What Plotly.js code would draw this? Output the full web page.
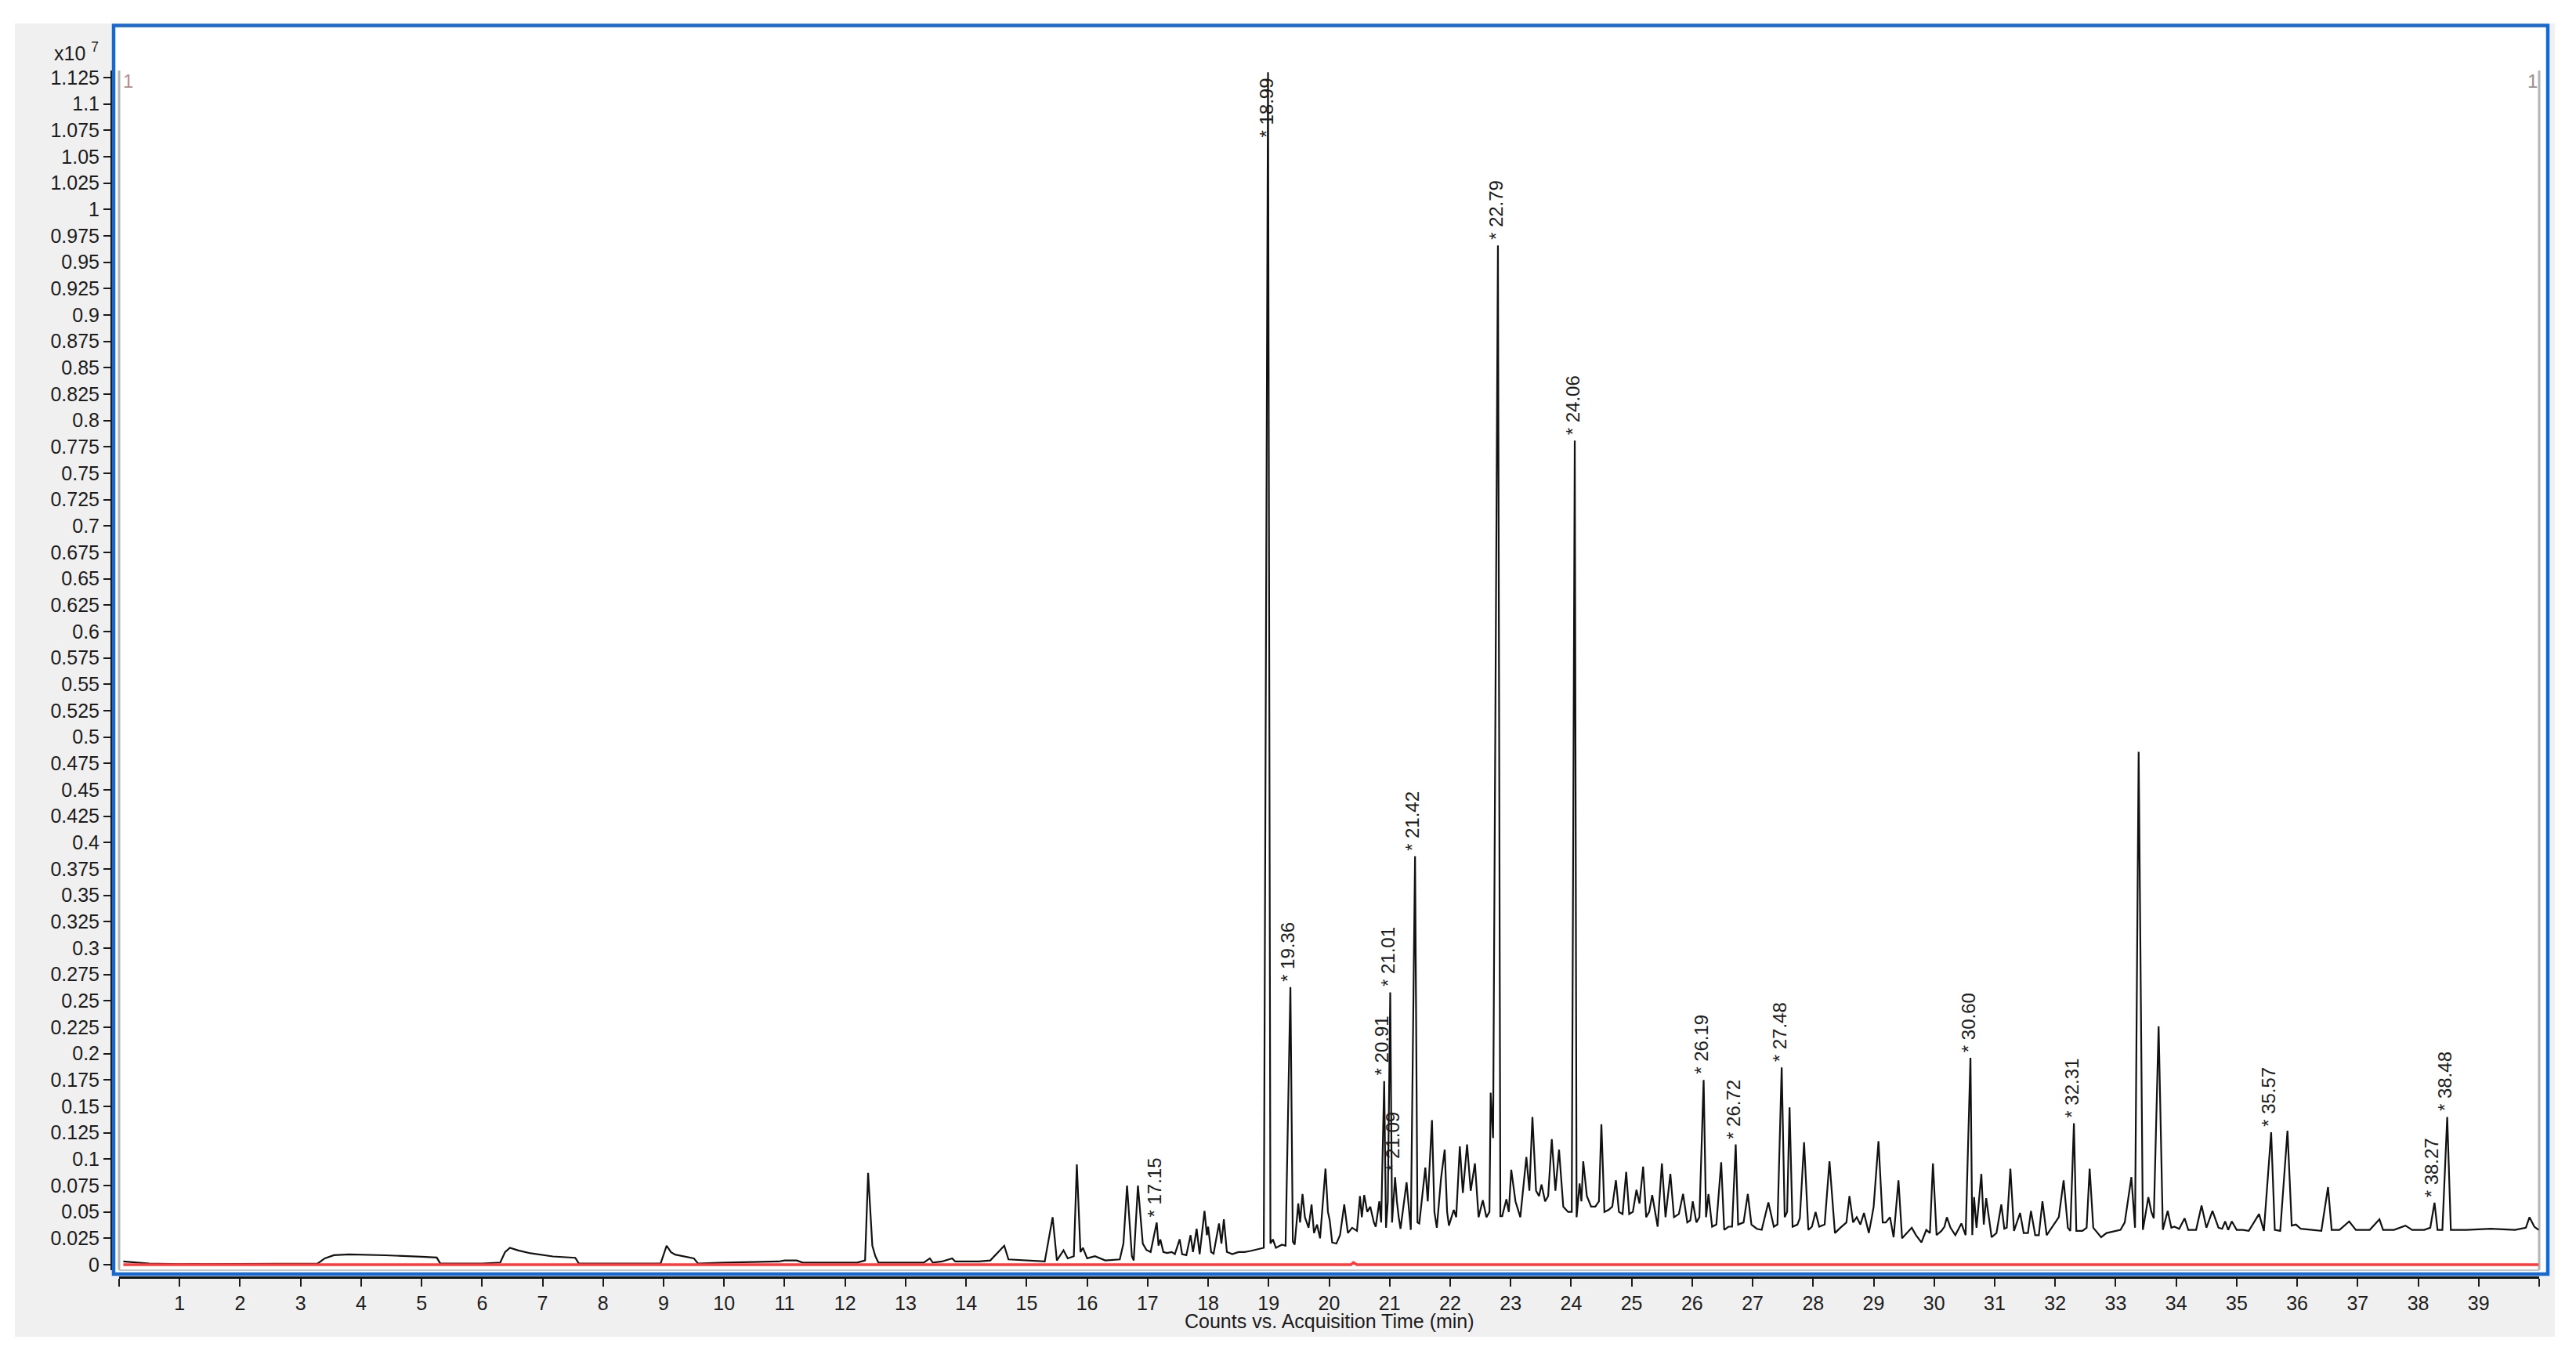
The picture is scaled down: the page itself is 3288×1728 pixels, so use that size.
<!DOCTYPE html>
<html>
<head>
<meta charset="utf-8">
<script src="https://cdn.plot.ly/plotly-3.0.1.min.js"></script>
<style>
  html, body { margin: 0; padding: 0; background: #ffffff; }
  #chart { width: 3288px; height: 1728px; }
</style>
</head>
<body>
<div id="chart"></div>
<script>
// ---- DATA (counts in units of x10^7, time in minutes) ----
const timeMin = [
  0.07, 0.30, 0.50, 1.0, 2.0, 3.0, 3.28, 3.40, 3.55, 3.8, 4.4, 5.0, 5.25, 5.31,
  6.0, 6.30, 6.38, 6.46, 6.6, 6.8, 7.17, 7.54, 7.60, 8.95, 9.05, 9.12, 9.19, 9.5, 9.57,
  10.0, 10.9, 11.0, 11.2, 11.3, 12.2, 12.33, 12.38, 12.45, 12.50, 12.55, 13.3, 13.4,
  13.45, 13.6, 13.77, 13.82, 14.0, 14.21, 14.4, 14.63, 14.7, 15.0, 15.3, 15.43, 15.5,
  15.61, 15.68, 15.78, 15.83, 15.89, 15.93, 16.0, 16.13, 16.3, 16.54, 16.60, 16.66,
  16.74, 16.77, 16.84, 16.92, 16.98, 17.05, 17.15, 17.18, 17.21, 17.26, 17.32, 17.40,
  17.45, 17.53, 17.57, 17.64, 17.71, 17.75, 17.81, 17.86, 17.94, 17.98, 18.00, 18.05,
  18.09, 18.14, 18.18, 18.22, 18.26, 18.31, 18.40, 18.50, 18.60, 18.70, 18.83, 18.92,
  18.99, 19.03, 19.07, 19.12, 19.22, 19.28, 19.36, 19.40, 19.43, 19.49, 19.52, 19.56,
  19.60, 19.62, 19.66, 19.71, 19.75, 19.80, 19.85, 19.94, 19.98, 20.01, 20.05, 20.12,
  20.18, 20.25, 20.31, 20.38, 20.46, 20.51, 20.54, 20.58, 20.63, 20.68, 20.74, 20.77,
  20.83, 20.86, 20.91, 20.94, 20.97, 21.01, 21.04, 21.09, 21.12, 21.15, 21.18, 21.28,
  21.35, 21.42, 21.46, 21.49, 21.59, 21.63, 21.70, 21.74, 21.78, 21.85, 21.91, 21.95,
  21.98, 22.06, 22.10, 22.16, 22.21, 22.28, 22.34, 22.41, 22.47, 22.54, 22.60, 22.65,
  22.67, 22.71, 22.79, 22.83, 22.86, 22.93, 22.97, 23.01, 23.08, 23.16, 23.26, 23.31,
  23.36, 23.42, 23.47, 23.51, 23.57, 23.62, 23.68, 23.74, 23.80, 23.87, 23.95, 24.01,
  24.06, 24.09, 24.14, 24.17, 24.20, 24.26, 24.33, 24.40, 24.46, 24.50, 24.55, 24.62,
  24.68, 24.74, 24.79, 24.85, 24.91, 24.96, 25.02, 25.08, 25.13, 25.19, 25.24, 25.29,
  25.34, 25.43, 25.50, 25.56, 25.64, 25.70, 25.78, 25.85, 25.92, 25.97, 26.01, 26.07,
  26.12, 26.19, 26.23, 26.27, 26.33, 26.40, 26.48, 26.53, 26.60, 26.66, 26.72, 26.76,
  26.85, 26.92, 26.98, 27.07, 27.15, 27.26, 27.35, 27.41, 27.48, 27.53, 27.57, 27.61,
  27.66, 27.74, 27.78, 27.85, 27.92, 27.98, 28.04, 28.10, 28.19, 28.27, 28.36, 28.45,
  28.55, 28.60, 28.66, 28.72, 28.78, 28.84, 28.92, 28.97, 29.00, 29.08, 29.15, 29.20,
  29.27, 29.33, 29.41, 29.47, 29.55, 29.63, 29.70, 29.79, 29.87, 29.93, 29.98, 30.04,
  30.12, 30.17, 30.21, 30.27, 30.35, 30.45, 30.52, 30.60, 30.63, 30.66, 30.70, 30.78,
  30.82, 30.86, 30.95, 31.03, 31.11, 31.16, 31.20, 31.26, 31.32, 31.42, 31.48, 31.55,
  31.60, 31.67, 31.73, 31.79, 31.86, 31.93, 32.00, 32.06, 32.14, 32.21, 32.25, 32.31,
  32.35, 32.45, 32.52, 32.57, 32.63, 32.70, 32.76, 32.85, 32.98, 33.08, 33.15, 33.26,
  33.32, 33.38, 33.45, 33.50, 33.54, 33.59, 33.63, 33.71, 33.78, 33.86, 33.92, 33.97,
  34.05, 34.14, 34.20, 34.33, 34.42, 34.50, 34.60, 34.70, 34.76, 34.81, 34.86, 34.92,
  35.00, 35.10, 35.20, 35.37, 35.45, 35.57, 35.63, 35.72, 35.84, 35.91, 35.98, 36.06,
  36.20, 36.40, 36.51, 36.57, 36.70, 36.86, 36.97, 37.20, 37.36, 37.42, 37.60, 37.79,
  37.90, 38.10, 38.20, 38.27, 38.32, 38.40, 38.48, 38.54, 38.80, 39.20, 39.60, 39.78,
  39.84, 39.92, 39.99
];
const counts = [
  0.003, 0.002, 0.001, 0.0005, 0.0005, 0.0005, 0.001, 0.006, 0.009, 0.0097, 0.0089, 0.0075, 0.0068, 0.001,
  0.001, 0.002, 0.012, 0.016, 0.0135, 0.0108, 0.0078, 0.0065, 0.001, 0.001, 0.018, 0.012, 0.0095, 0.006, 0.001,
  0.002, 0.003, 0.004, 0.004, 0.002, 0.002, 0.004, 0.087, 0.018, 0.008, 0.002, 0.002, 0.006,
  0.002, 0.003, 0.006, 0.003, 0.003, 0.003, 0.004, 0.018, 0.005, 0.004, 0.003, 0.045, 0.004,
  0.0136, 0.006, 0.008, 0.095, 0.012, 0.016, 0.006, 0.008, 0.004, 0.005, 0.020, 0.075,
  0.008, 0.004, 0.075, 0.020, 0.014, 0.012, 0.040, 0.018, 0.024, 0.012, 0.011, 0.012,
  0.010, 0.024, 0.010, 0.009, 0.028, 0.012, 0.034, 0.010, 0.051, 0.028, 0.036, 0.012,
  0.0105, 0.028, 0.039, 0.020, 0.043, 0.012, 0.010, 0.012, 0.012, 0.013, 0.015, 0.016,
  1.13, 0.020, 0.024, 0.016, 0.019, 0.018, 0.263, 0.022, 0.019, 0.058, 0.040, 0.067,
  0.045, 0.042, 0.035, 0.057, 0.030, 0.038, 0.025, 0.091, 0.050, 0.042, 0.021, 0.020,
  0.028, 0.057, 0.030, 0.035, 0.032, 0.065, 0.045, 0.066, 0.050, 0.055, 0.040, 0.036,
  0.060, 0.040, 0.174, 0.035, 0.060, 0.258, 0.040, 0.083, 0.060, 0.045, 0.034, 0.078,
  0.033, 0.387, 0.040, 0.039, 0.092, 0.060, 0.137, 0.050, 0.035, 0.082, 0.109, 0.050,
  0.037, 0.052, 0.045, 0.112, 0.068, 0.114, 0.070, 0.096, 0.045, 0.061, 0.045, 0.050,
  0.163, 0.120, 0.966, 0.046, 0.046, 0.062, 0.050, 0.090, 0.060, 0.045, 0.102, 0.070,
  0.140, 0.070, 0.065, 0.076, 0.060, 0.065, 0.119, 0.070, 0.109, 0.055, 0.050, 0.050,
  0.781, 0.045, 0.077, 0.060, 0.098, 0.065, 0.055, 0.055, 0.060, 0.133, 0.050, 0.052,
  0.055, 0.080, 0.050, 0.048, 0.088, 0.048, 0.050, 0.071, 0.058, 0.093, 0.045, 0.050,
  0.066, 0.036, 0.096, 0.045, 0.086, 0.045, 0.048, 0.067, 0.040, 0.042, 0.060, 0.040,
  0.045, 0.175, 0.045, 0.067, 0.036, 0.038, 0.097, 0.033, 0.036, 0.036, 0.114, 0.038,
  0.040, 0.067, 0.038, 0.034, 0.033, 0.059, 0.036, 0.038, 0.187, 0.045, 0.050, 0.149,
  0.036, 0.038, 0.044, 0.116, 0.033, 0.036, 0.050, 0.036, 0.038, 0.098, 0.030, 0.035,
  0.040, 0.065, 0.040, 0.045, 0.038, 0.049, 0.030, 0.045, 0.055, 0.117, 0.040, 0.040,
  0.045, 0.026, 0.080, 0.025, 0.030, 0.035, 0.028, 0.021, 0.033, 0.030, 0.096, 0.028,
  0.032, 0.036, 0.045, 0.035, 0.028, 0.039, 0.028, 0.196, 0.028, 0.064, 0.035, 0.086,
  0.038, 0.063, 0.026, 0.030, 0.057, 0.034, 0.035, 0.091, 0.032, 0.049, 0.030, 0.030,
  0.051, 0.028, 0.028, 0.060, 0.028, 0.034, 0.040, 0.045, 0.080, 0.035, 0.032, 0.134,
  0.032, 0.032, 0.035, 0.091, 0.035, 0.030, 0.026, 0.030, 0.032, 0.033, 0.040, 0.083,
  0.035, 0.486, 0.033, 0.050, 0.064, 0.050, 0.044, 0.226, 0.033, 0.051, 0.035, 0.036,
  0.034, 0.044, 0.033, 0.033, 0.056, 0.035, 0.051, 0.035, 0.034, 0.041, 0.033, 0.041,
  0.033, 0.033, 0.032, 0.048, 0.032, 0.1255, 0.033, 0.032, 0.127, 0.037, 0.038, 0.034,
  0.033, 0.032, 0.0735, 0.033, 0.033, 0.041, 0.033, 0.033, 0.043, 0.033, 0.033, 0.037,
  0.033, 0.033, 0.035, 0.0587, 0.033, 0.033, 0.140, 0.033, 0.033, 0.034, 0.033, 0.035,
  0.045, 0.036, 0.033
];

// second (red) trace: flat baseline
const redTime   = [0.07, 20.30, 20.36, 20.40, 20.46, 39.99];
const redCounts = [0.0,  0.0,   0.0,   0.002, 0.0,   0.0];

// labelled peaks (retention times)
const peakLabels = ['17.15','18.99','19.36','20.91','21.01','21.09','21.42','22.79','24.06',
                    '26.19','26.72','27.48','30.60','32.31','35.57','38.27','38.48'];

// tick labels
const xTickVals = [1,2,3,4,5,6,7,8,9,10,11,12,13,14,15,16,17,18,19,20,21,22,23,24,25,26,27,28,29,30,31,32,33,34,35,36,37,38,39];
const xTickText = ['1','2','3','4','5','6','7','8','9','10','11','12','13','14','15','16','17','18','19','20','21','22','23','24','25','26','27','28','29','30','31','32','33','34','35','36','37','38','39'];
const xEndTicks = [0, 40];
const yTickVals = [0,0.025,0.05,0.075,0.1,0.125,0.15,0.175,0.2,0.225,0.25,0.275,0.3,0.325,0.35,0.375,0.4,0.425,0.45,0.475,0.5,0.525,0.55,0.575,0.6,0.625,0.65,0.675,0.7,0.725,0.75,0.775,0.8,0.825,0.85,0.875,0.9,0.925,0.95,0.975,1,1.025,1.05,1.075,1.1,1.125];
const yTickText = ['0','0.025','0.05','0.075','0.1','0.125','0.15','0.175','0.2','0.225','0.25','0.275','0.3','0.325','0.35','0.375','0.4','0.425','0.45','0.475','0.5','0.525','0.55','0.575','0.6','0.625','0.65','0.675','0.7','0.725','0.75','0.775','0.8','0.825','0.85','0.875','0.9','0.925','0.95','0.975','1','1.025','1.05','1.075','1.1','1.125'];

// ---- LAYOUT GEOMETRY ----
const W = 3288, H = 1728;
const ML = 142, MR = 47, MT = 90, MB = 98;
const PW = W - ML - MR, PH = H - MT - MB;
const px = v => (v - ML) / PW;          // pixel x -> paper
const py = v => (H - MB - v) / PH;      // pixel y -> paper
const Y_MIN = -0.0052, Y_MAX = 1.1317;

const FONT = 'Liberation Sans, Arial, sans-serif';
const TXT = '#1c1c1c';

// annotations for labelled peaks
const annotations = [];
peakLabels.forEach(lbl => {
  const t = parseFloat(lbl);
  let best = -1, bi = -1;
  for (let i = 0; i < timeMin.length; i++) {
    if (Math.abs(timeMin[i] - t) <= 0.06 && counts[i] > best) { best = counts[i]; bi = i; }
  }
  const clamp = best > Y_MAX - 0.07;
  annotations.push({
    x: timeMin[bi], y: clamp ? Y_MAX : best, xref: 'x', yref: 'y',
    text: '* ' + lbl, showarrow: false, textangle: -90,
    xanchor: 'center', yanchor: clamp ? 'top' : 'bottom',
    xshift: -3, yshift: clamp ? -8 : 5,
    font: {family: FONT, size: 24, color: TXT}
  });
});
annotations.push({
  xref: 'paper', yref: 'paper', x: px(128), y: py(66), xanchor: 'right', yanchor: 'middle',
  text: 'x10 <sup>7</sup>', showarrow: false, font: {family: FONT, size: 25, color: TXT}
});
annotations.push({
  xref: 'paper', yref: 'paper', x: px(1697), y: py(1686), xanchor: 'center', yanchor: 'middle',
  text: 'Counts vs. Acquisition Time (min)', showarrow: false, font: {family: FONT, size: 25, color: TXT}
});
annotations.push({
  xref: 'paper', yref: 'paper', x: px(163), y: py(104), xanchor: 'center', yanchor: 'middle',
  text: '1', showarrow: false, font: {family: FONT, size: 24, color: '#b48c8c'}
});
annotations.push({
  xref: 'paper', yref: 'paper', x: px(3232), y: py(104), xanchor: 'center', yanchor: 'middle',
  text: '1', showarrow: false, font: {family: FONT, size: 24, color: '#9a8f8f'}
});

const shapes = [
  // grey window background
  {type: 'rect', xref: 'paper', yref: 'paper', layer: 'below',
   x0: px(19), x1: px(3261), y0: py(1706), y1: py(30),
   fillcolor: '#f0f0f0', line: {width: 0}},
  // white panel inside frame
  {type: 'rect', xref: 'paper', yref: 'paper', layer: 'below',
   x0: px(146), x1: px(3250), y0: py(1624), y1: py(35),
   fillcolor: '#ffffff', line: {width: 0}},
  // blue selection frame
  {type: 'rect', xref: 'paper', yref: 'paper', layer: 'above',
   x0: px(145), x1: px(3252), y0: py(1626), y1: py(32.5),
   fillcolor: 'rgba(0,0,0,0)', line: {width: 4.5, color: '#1769cf'}},
  // inner grey box lines (left, right, bottom)
  {type: 'line', xref: 'paper', yref: 'paper', layer: 'below',
   x0: px(152), x1: px(152), y0: py(1621), y1: py(90), line: {width: 3, color: '#b4b4b4'}},
  {type: 'line', xref: 'paper', yref: 'paper', layer: 'below',
   x0: px(3241), x1: px(3241), y0: py(1621), y1: py(90), line: {width: 3, color: '#b4b4b4'}},
  {type: 'line', xref: 'paper', yref: 'paper', layer: 'below',
   x0: px(152), x1: px(3241), y0: py(1621), y1: py(1621), line: {width: 2, color: '#c4c4c4'}}
];

const traces = [
  {x: timeMin, y: counts, type: 'scatter', mode: 'lines',
   line: {color: '#111111', width: 2.2}, hoverinfo: 'skip'},
  {x: redTime, y: redCounts, type: 'scatter', mode: 'lines',
   line: {color: '#ff3b3b', width: 3.5}, hoverinfo: 'skip'}
];

const layout = {
  width: W, height: H,
  margin: {l: ML, r: MR, t: MT, b: MB, pad: 0},
  paper_bgcolor: '#ffffff', plot_bgcolor: 'rgba(0,0,0,0)',
  showlegend: false, hovermode: false,
  xaxis: {
    domain: [10 / PW, 1], anchor: 'free', position: 0,
    range: [0, 40], tickmode: 'array', tickvals: xTickVals, ticktext: xTickText,
    ticks: 'outside', ticklen: 10, tickwidth: 2, tickcolor: '#1a1a1a',
    minor: {tickmode: 'array', tickvals: xEndTicks, ticks: 'outside', ticklen: 10,
            tickwidth: 2, tickcolor: '#1a1a1a', showgrid: false},
    showline: true, linecolor: '#111111', linewidth: 2.5,
    showgrid: false, zeroline: false,
    tickfont: {family: FONT, size: 25, color: TXT}
  },
  yaxis: {
    domain: [9 / PH, 1], anchor: 'free', position: 0,
    range: [Y_MIN, Y_MAX], tickmode: 'array', tickvals: yTickVals, ticktext: yTickText,
    ticks: 'outside', ticklen: 9, tickwidth: 2, tickcolor: '#1a1a1a',
    showline: true, linecolor: '#111111', linewidth: 2.5,
    showgrid: false, zeroline: false,
    tickfont: {family: FONT, size: 25, color: TXT}
  },
  shapes: shapes,
  annotations: annotations
};

Plotly.newPlot('chart', traces, layout, {staticPlot: true, displayModeBar: false});
</script>
</body>
</html>
